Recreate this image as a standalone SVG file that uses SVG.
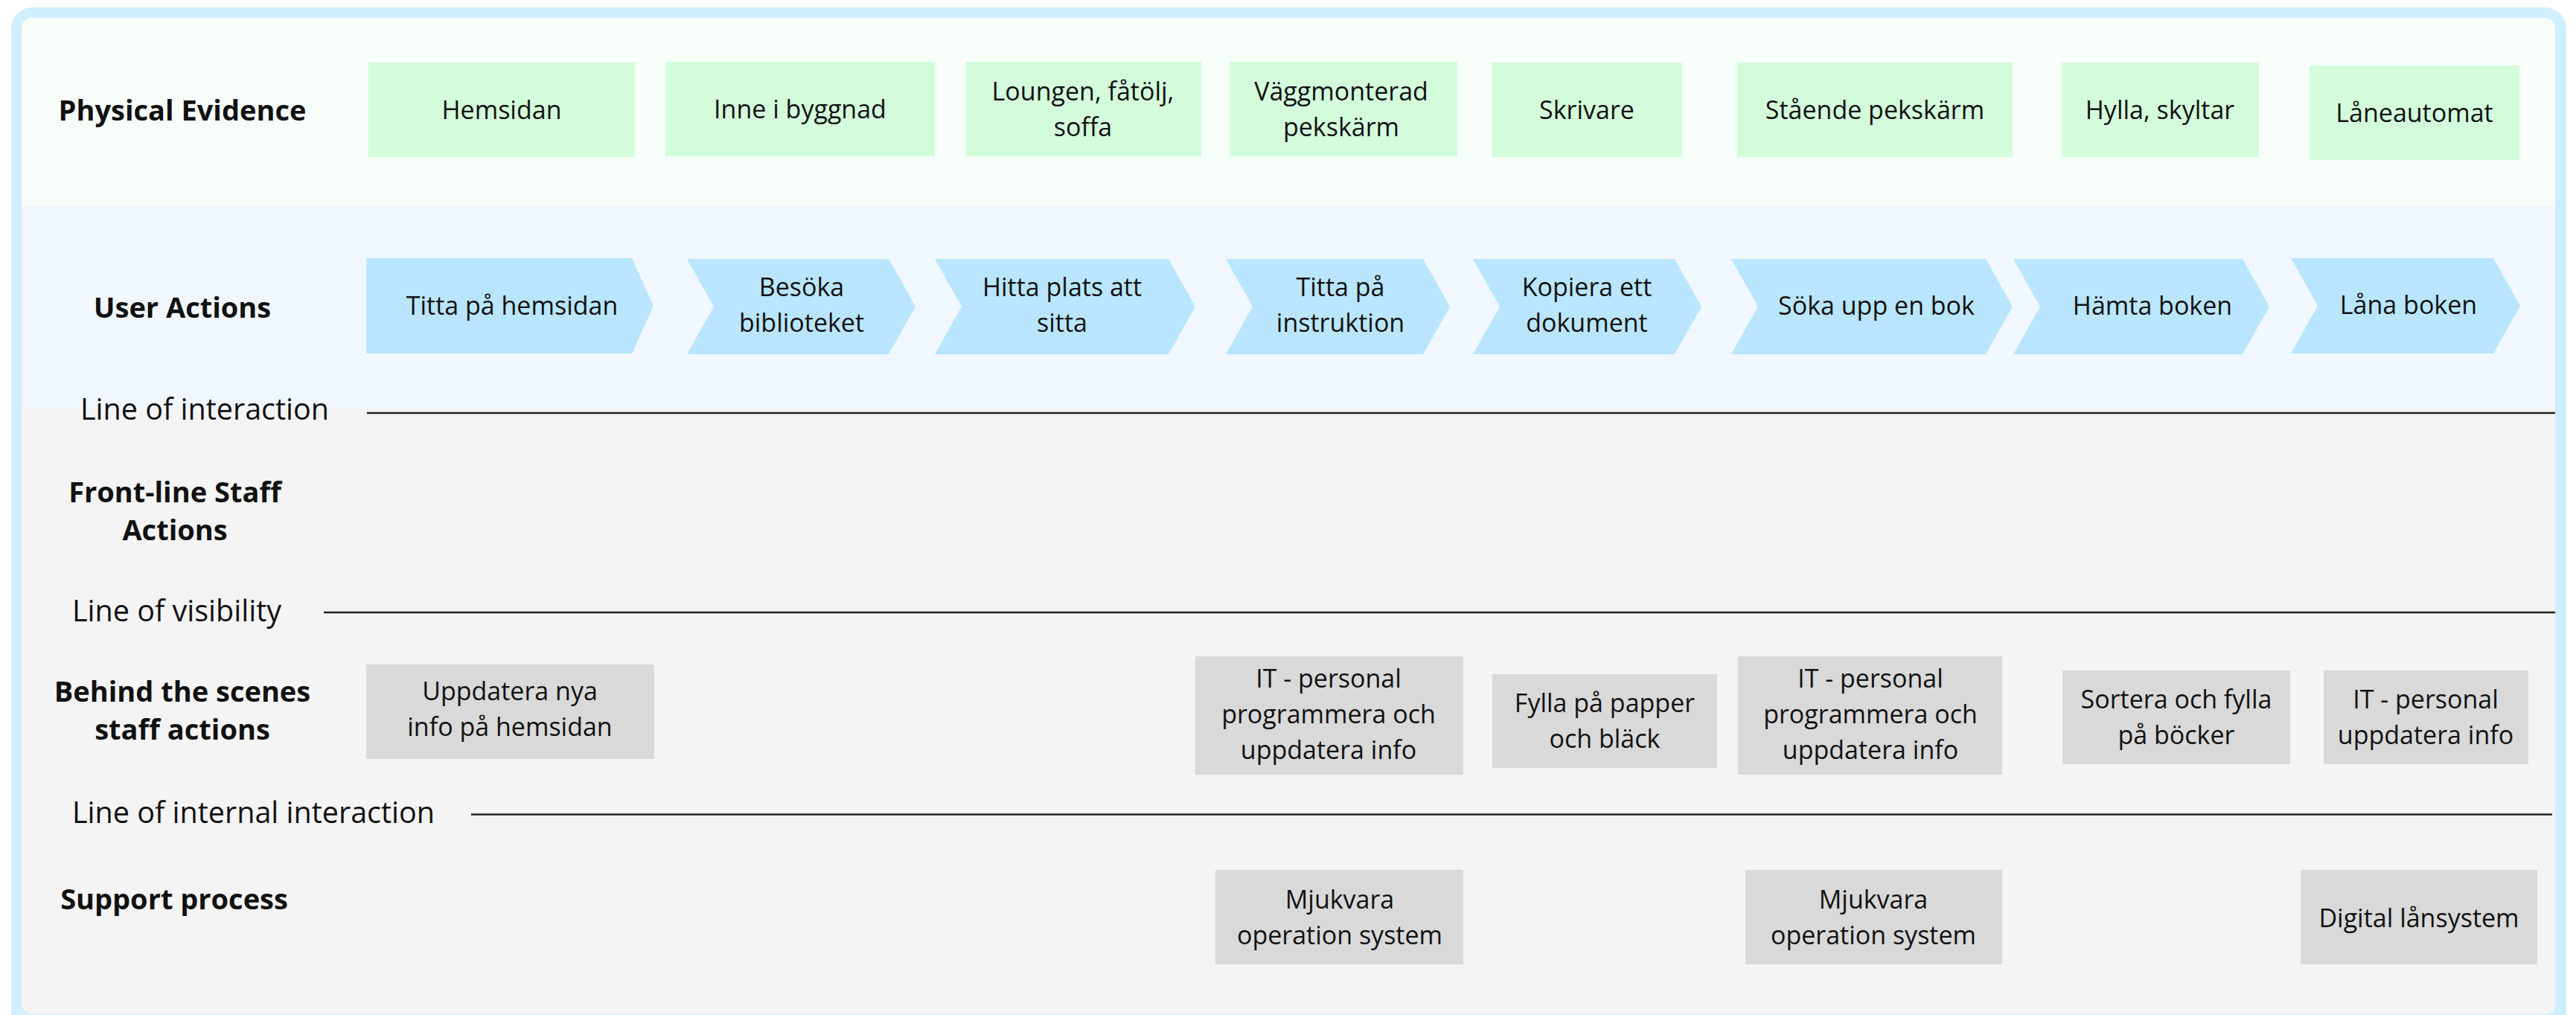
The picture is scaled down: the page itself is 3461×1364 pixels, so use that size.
<svg xmlns="http://www.w3.org/2000/svg" width="3461" height="1364" viewBox="0 0 3461 1364">
<style>
text{font-family:"Open Sans","Noto Sans","Liberation Sans",sans-serif;fill:#111;}
.lab{font-size:38px;font-weight:700;text-anchor:middle;}
.line-lab{font-size:39.5px;}
.t{font-size:34px;text-anchor:middle;}
.pe{fill:#d3fcdb;}
.ua{fill:#b9e6fe;}
.bs{fill:#d9d9d9;}
.sep{stroke:#222;stroke-width:2.5;fill:none;}
</style>
<defs>
<clipPath id="inner"><rect x="29" y="24" width="3404" height="1339" rx="14"/></clipPath>
</defs>
<g id="frame">
<rect x="15" y="10" width="3433" height="1380" rx="28" fill="#cfeefe"/>
<g clip-path="url(#inner)">
<rect x="29" y="24" width="3404" height="254" fill="#f7fdf9"/>
<rect x="29" y="277" width="3404" height="273" fill="#f0f7fe"/>
<rect x="29" y="549" width="3404" height="820" fill="#f4f4f4"/>
</g>
</g>
<g id="lane-labels">
<text class="lab" x="245" y="162">Physical Evidence</text>
<text class="lab" x="245" y="427">User Actions</text>
<text class="lab" x="235" y="675">Front-line Staff</text>
<text class="lab" x="235" y="726">Actions</text>
<text class="lab" x="245" y="943">Behind the scenes</text>
<text class="lab" x="245" y="994">staff actions</text>
<text class="lab" x="234" y="1222">Support process</text>
</g>
<g id="connectors">
<line class="sep" x1="493" y1="555" x2="3433" y2="555"/>
<line class="sep" x1="435" y1="823" x2="3433" y2="823"/>
<line class="sep" x1="633" y1="1094.5" x2="3429" y2="1094.5"/>
</g>
<g id="line-labels">
<text class="line-lab" x="108" y="564">Line of interaction</text>
<text class="line-lab" x="97" y="835">Line of visibility</text>
<text class="line-lab" x="97" y="1106">Line of internal interaction</text>
</g>
<g id="pe1"><rect class="pe" x="495" y="84" width="358" height="127"/><text class="t" x="674" y="160">Hemsidan</text></g>
<g id="pe2"><rect class="pe" x="894" y="83" width="362" height="127"/><text class="t" x="1075" y="159">Inne i byggnad</text></g>
<g id="pe3"><rect class="pe" x="1298" y="83" width="316" height="127"/><text class="t" x="1455" y="135">Loungen, fåtölj,</text><text class="t" x="1455" y="183">soffa</text></g>
<g id="pe4"><rect class="pe" x="1652" y="83" width="306" height="127"/><text class="t" x="1802" y="135">Väggmonterad</text><text class="t" x="1802" y="183">pekskärm</text></g>
<g id="pe5"><rect class="pe" x="2005" y="84" width="255" height="127"/><text class="t" x="2132" y="160">Skrivare</text></g>
<g id="pe6"><rect class="pe" x="2334" y="84" width="370" height="127"/><text class="t" x="2519" y="160">Stående pekskärm</text></g>
<g id="pe7"><rect class="pe" x="2770" y="84" width="265" height="127"/><text class="t" x="2902" y="160">Hylla, skyltar</text></g>
<g id="pe8"><rect class="pe" x="3103" y="88" width="282" height="127"/><text class="t" x="3244" y="164">Låneautomat</text></g>
<g id="ua1"><path class="ua" d="M492,347 H849 L878,411 L849,475 H492 Z"/><text class="t" x="688" y="423">Titta på hemsidan</text></g>
<g id="ua2"><path class="ua" d="M923,348 H1194 L1230,412 L1194,476 H923 L959,412 Z"/><text class="t" x="1077" y="398">Besöka</text><text class="t" x="1077" y="446">biblioteket</text></g>
<g id="ua3"><path class="ua" d="M1256,348 H1570 L1606,412 L1570,476 H1256 L1292,412 Z"/><text class="t" x="1427" y="398">Hitta plats att</text><text class="t" x="1427" y="446">sitta</text></g>
<g id="ua4"><path class="ua" d="M1647,348 H1912 L1948,412 L1912,476 H1647 L1683,412 Z"/><text class="t" x="1801" y="398">Titta på</text><text class="t" x="1801" y="446">instruktion</text></g>
<g id="ua5"><path class="ua" d="M1979,348 H2250 L2286,412 L2250,476 H1979 L2015,412 Z"/><text class="t" x="2132" y="398">Kopiera ett</text><text class="t" x="2132" y="446">dokument</text></g>
<g id="ua6"><path class="ua" d="M2326,348 H2668 L2704,412 L2668,476 H2326 L2362,412 Z"/><text class="t" x="2521" y="423">Söka upp en bok</text></g>
<g id="ua7"><path class="ua" d="M2705,348 H3013 L3049,412 L3013,476 H2705 L2741,412 Z"/><text class="t" x="2892" y="423">Hämta boken</text></g>
<g id="ua8"><path class="ua" d="M3078,347 H3350 L3386,411 L3350,475 H3078 L3114,411 Z"/><text class="t" x="3236" y="422">Låna boken</text></g>
<g id="bs1"><rect class="bs" x="492" y="893" width="387" height="127"/><text class="t" x="685" y="941">Uppdatera nya</text><text class="t" x="685" y="989">info på hemsidan</text></g>
<g id="bs2"><rect class="bs" x="1606" y="882" width="360" height="159"/><text class="t" x="1785" y="924">IT - personal</text><text class="t" x="1785" y="972">programmera och</text><text class="t" x="1785" y="1020">uppdatera info</text></g>
<g id="bs3"><rect class="bs" x="2005" y="906" width="302" height="126"/><text class="t" x="2156" y="957">Fylla på papper</text><text class="t" x="2156" y="1005">och bläck</text></g>
<g id="bs4"><rect class="bs" x="2335" y="882" width="355" height="159"/><text class="t" x="2513" y="924">IT - personal</text><text class="t" x="2513" y="972">programmera och</text><text class="t" x="2513" y="1020">uppdatera info</text></g>
<g id="bs5"><rect class="bs" x="2771" y="901" width="306" height="126"/><text class="t" x="2924" y="952">Sortera och fylla</text><text class="t" x="2924" y="1000">på böcker</text></g>
<g id="bs6"><rect class="bs" x="3122" y="901" width="275" height="126"/><text class="t" x="3259" y="952">IT - personal</text><text class="t" x="3259" y="1000">uppdatera info</text></g>
<g id="sp1"><rect class="bs" x="1633" y="1169" width="333" height="127"/><text class="t" x="1800" y="1221">Mjukvara</text><text class="t" x="1800" y="1269">operation system</text></g>
<g id="sp2"><rect class="bs" x="2345" y="1169" width="345" height="127"/><text class="t" x="2517" y="1221">Mjukvara</text><text class="t" x="2517" y="1269">operation system</text></g>
<g id="sp3"><rect class="bs" x="3091" y="1169" width="318" height="127"/><text class="t" x="3250" y="1246">Digital lånsystem</text></g>
</svg>
